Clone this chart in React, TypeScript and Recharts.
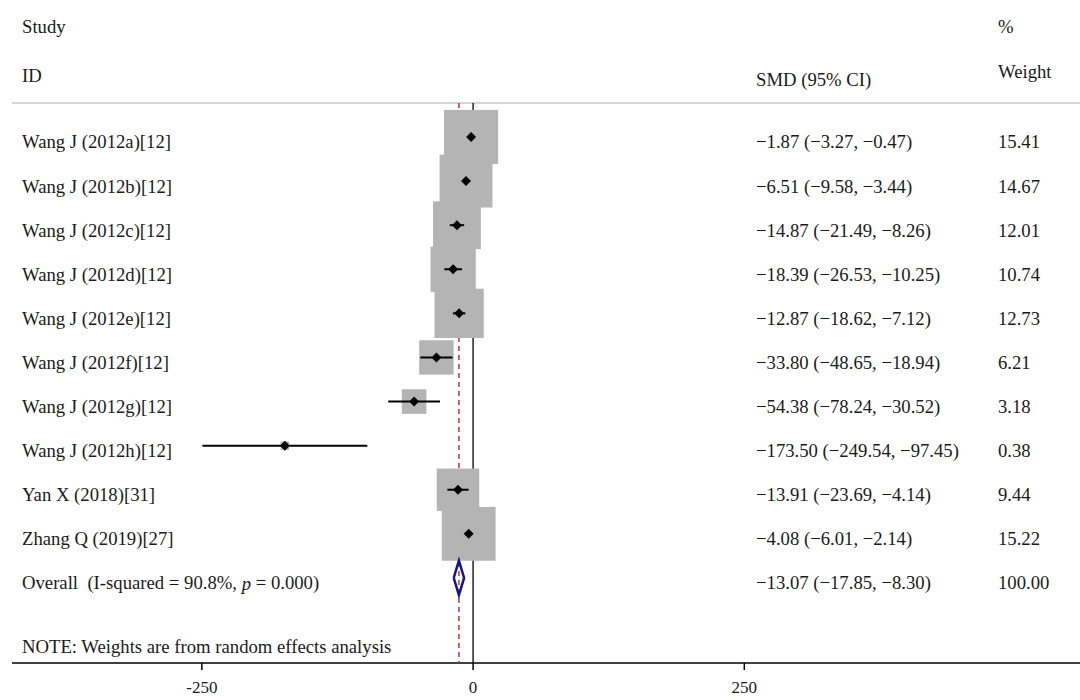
import { ComposedChart, Scatter, XAxis, YAxis, ReferenceLine } from "recharts";

const studies = [
  "Wang J (2012a)[12]",
  "Wang J (2012b)[12]",
  "Wang J (2012c)[12]",
  "Wang J (2012d)[12]",
  "Wang J (2012e)[12]",
  "Wang J (2012f)[12]",
  "Wang J (2012g)[12]",
  "Wang J (2012h)[12]",
  "Yan X (2018)[31]",
  "Zhang Q (2019)[27]",
];
const smd = [-1.87, -6.51, -14.87, -18.39, -12.87, -33.8, -54.38, -173.5, -13.91, -4.08];
const ciLow = [-3.27, -9.58, -21.49, -26.53, -18.62, -48.65, -78.24, -249.54, -23.69, -6.01];
const ciHigh = [-0.47, -3.44, -8.26, -10.25, -7.12, -18.94, -30.52, -97.45, -4.14, -2.14];
const weights = [15.41, 14.67, 12.01, 10.74, 12.73, 6.21, 3.18, 0.38, 9.44, 15.22];

const overallSmd = -13.07;
const overallLow = -17.85;
const overallHigh = -8.3;
const overallWeight = 100.0;
const iSquared = "90.8%";
const pValue = "0.000";
const note = "NOTE: Weights are from random effects analysis";
const xTicks = [-250, 0, 250];

// layout
const W = 1080;
const H = 700;
const FONT = "'Liberation Serif', 'Times New Roman', serif";
const FS = 18.7;
const TEXT_DY = 5;
const COL_LEFT = 22;
const COL_CI = 756;
const COL_WT = 998;
const BOX_K = 13.8;
const SEP_ROW = -0.77;
const BOTTOM_ROW = 11.93;
const OVERALL_ROW = studies.length;

const fmt = (v: number) => v.toFixed(2).replace(/-/g, "\u2212");

const rows = studies.map((name, i) => ({ x: smd[i], y: i, w: weights[i] }));

const ciSegments = studies.map((_, i) => [
  { x: ciLow[i], y: i },
  { x: ciHigh[i], y: i },
]);

type Label = { x: number; y: number; col: number; text: string; overall?: boolean };

const labels: Label[] = [
  { x: 0, y: -2.61, col: COL_LEFT, text: "Study" },
  { x: 0, y: -1.5, col: COL_LEFT, text: "ID" },
  { x: 0, y: -1.41, col: COL_CI, text: "SMD (95% CI)" },
  { x: 0, y: -2.61, col: COL_WT, text: "%" },
  { x: 0, y: -1.59, col: COL_WT, text: "Weight" },
  ...studies.flatMap((name, i) => [
    { x: 0, y: i, col: COL_LEFT, text: name },
    { x: 0, y: i, col: COL_CI, text: `${fmt(smd[i])} (${fmt(ciLow[i])}, ${fmt(ciHigh[i])})` },
    { x: 0, y: i, col: COL_WT, text: weights[i].toFixed(2) },
  ]),
  { x: 0, y: OVERALL_ROW, col: COL_LEFT, text: "", overall: true },
  {
    x: 0,
    y: OVERALL_ROW,
    col: COL_CI,
    text: `${fmt(overallSmd)} (${fmt(overallLow)}, ${fmt(overallHigh)})`,
  },
  { x: 0, y: OVERALL_ROW, col: COL_WT, text: overallWeight.toFixed(2) },
  { x: 0, y: 11.45, col: COL_LEFT, text: note },
];

const overallDiamond = [
  { x: overallLow, y: OVERALL_ROW },
  { x: overallSmd, y: OVERALL_ROW - 0.39 },
  { x: overallHigh, y: OVERALL_ROW },
  { x: overallSmd, y: OVERALL_ROW + 0.39 },
  { x: overallLow, y: OVERALL_ROW },
];

const zeroLine = [
  { x: 0, y: SEP_ROW },
  { x: 0, y: BOTTOM_ROW },
];
const overallLine = [
  { x: overallSmd, y: SEP_ROW },
  { x: overallSmd, y: BOTTOM_ROW },
];

const Empty = () => <g />;

const BoxShape = (props: any) => {
  const { cx, cy, payload } = props;
  const s = BOX_K * Math.sqrt(payload.w);
  return <rect x={cx - s / 2} y={cy - s / 2} width={s} height={s} fill="#b4b4b4" />;
};

const PointShape = (props: any) => {
  const { cx, cy } = props;
  const r = 5;
  return (
    <polygon
      points={`${cx - r},${cy} ${cx},${cy - r} ${cx + r},${cy} ${cx},${cy + r}`}
      fill="#000"
    />
  );
};

const LabelShape = (props: any) => {
  const { cy, payload } = props;
  const common = {
    x: payload.col,
    y: cy + TEXT_DY,
    dominantBaseline: "central" as const,
    fontFamily: FONT,
    fontSize: FS,
    fill: "#1a1a1a",
  };
  if (payload.overall) {
    return (
      <text {...common} style={{ whiteSpace: "pre" }}>
        {`Overall  (I-squared = ${iSquared}, `}
        <tspan fontStyle="italic">p</tspan>
        {` = ${pValue})`}
      </text>
    );
  }
  return <text {...common}>{payload.text}</text>;
};

export default function App() {
  return (
    <div style={{ position: "absolute", left: 0, top: 0, background: "#fff" }}>
      <ComposedChart
        width={W}
        height={H}
        margin={{ top: 0, right: 0, bottom: 0, left: 12 }}
      >
        <XAxis
          type="number"
          dataKey="x"
          domain={[-425, 559.4]}
          allowDataOverflow
          ticks={xTicks}
          height={37}
          axisLine={{ stroke: "#000", strokeWidth: 1.5 }}
          tickLine={{ stroke: "#000", strokeWidth: 1.5 }}
          tickSize={7}
          tickMargin={11}
          tick={{ fontFamily: FONT, fontSize: 17, fill: "#1a1a1a" }}
        />
        <YAxis
          type="number"
          dataKey="y"
          domain={[-3.107, BOTTOM_ROW]}
          allowDataOverflow
          reversed
          hide
        />
        <ReferenceLine y={SEP_ROW} stroke="#c8c8c8" strokeWidth={1.5} />
        <Scatter
          data={overallLine}
          shape={Empty}
          line={{ stroke: "#c0343a", strokeWidth: 1.5, strokeDasharray: "5 4" }}
          isAnimationActive={false}
        />
        <Scatter
          data={zeroLine}
          shape={Empty}
          line={{ stroke: "#222", strokeWidth: 1.5 }}
          isAnimationActive={false}
        />
        <Scatter data={rows} shape={BoxShape} isAnimationActive={false} />
        {ciSegments.map((seg, i) => (
          <Scatter
            key={i}
            data={seg}
            shape={Empty}
            line={{ stroke: "#000", strokeWidth: 2 }}
            isAnimationActive={false}
          />
        ))}
        <Scatter data={rows} shape={PointShape} isAnimationActive={false} />
        <Scatter
          data={overallDiamond}
          shape={Empty}
          line={{ stroke: "#16168a", strokeWidth: 2.5, fill: "none" }}
          isAnimationActive={false}
        />
        <Scatter data={labels} shape={LabelShape} isAnimationActive={false} />
      </ComposedChart>
    </div>
  );
}
